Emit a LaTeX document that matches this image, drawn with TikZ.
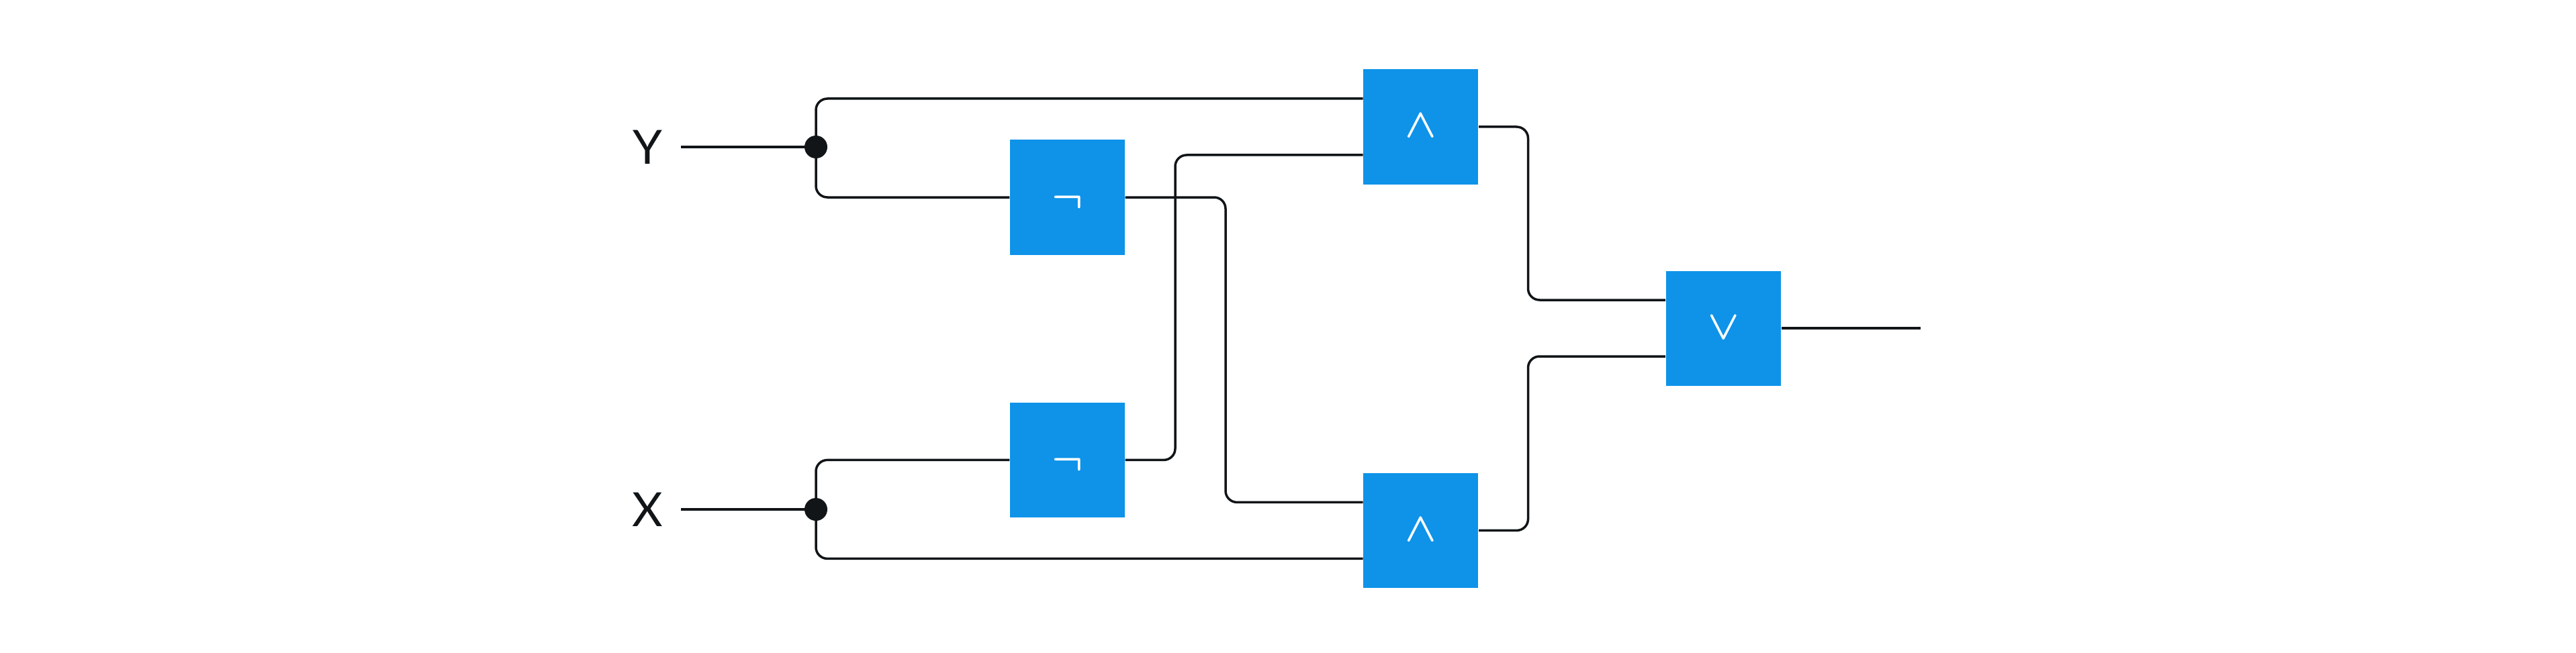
\documentclass[tikz,border=0pt]{standalone}
\usepackage{fontspec}
\usetikzlibrary{positioning,calc}
\setmainfont{Lato}
\definecolor{gateblue}{RGB}{14,147,233}
\definecolor{wireblack}{RGB}{17,21,24}

\begin{document}
\begin{tikzpicture}[
  gate/.style={rectangle, fill=gateblue, minimum width=1.71cm, minimum height=1.71cm, inner sep=0pt, text=white, text height=0.32cm, text depth=0cm, font=\boldmath\fontsize{17pt}{17pt}\selectfont},
  notgate/.style={gate, text height=0.4cm},
  inlabel/.style={text=wireblack, inner sep=0pt, font=\fontsize{20pt}{20pt}\selectfont},
  junction/.style={circle, fill=wireblack, minimum size=0.34cm, inner sep=0pt},
  wire/.style={line width=0.035cm, wireblack, rounded corners=0.17cm},
  stub/.style={line width=0.04cm, wireblack}
]
\useasboundingbox (0,0) rectangle (38.36,9.72);

% gates
\node[notgate] (notY) at (15.895,6.78) {$\neg$};
\node[notgate, below=2.19cm of notY] (notX) {$\neg$};
\node[gate, right=3.54cm of notY, yshift=1.05cm] (andY) {$\wedge$};
\node[gate, right=3.54cm of notX, yshift=-1.05cm] (andX) {$\wedge$};
\node[gate, right=2.78cm of andY, yshift=-3cm] (orZ) {$\vee$};

% inputs
\node[junction] (dotY) at (12.15,7.53) {};
\node[junction] (dotX) at (12.15,2.13) {};
\node[inlabel] (lblY) at (9.64,7.53) {Y};
\node[inlabel] (lblX) at (9.64,2.13) {X};
\coordinate[right=0.5cm of lblY.center] (startY);
\coordinate[right=0.5cm of lblX.center] (startX);
\coordinate[right=2.07cm of orZ.east] (out);

% gate pins and the vertical runs
\coordinate (andYa) at ([yshift=0.42cm]andY.west);
\coordinate (andYb) at ([yshift=-0.42cm]andY.west);
\coordinate (andXa) at ([yshift=0.42cm]andX.west);
\coordinate (andXb) at ([yshift=-0.42cm]andX.west);
\coordinate (orZa) at ([yshift=0.42cm]orZ.west);
\coordinate (orZb) at ([yshift=-0.42cm]orZ.west);
\coordinate (busX) at (17.5,0);
\coordinate (busY) at (18.25,0);
\coordinate (busZ) at (22.755,0);

\draw[stub] (startY) -- (dotY.center);
\draw[stub] (startX) -- (dotX.center);
\draw[stub] (orZ.east) -- (out);

\draw[wire] (andYa) -| (dotY.center) |- (notY.west);
\draw[wire] (andXb) -| (dotX.center) |- (notX.west);
\draw[wire] (notX.east) -- (busX |- notX.east) -- (busX |- andYb) -- (andYb);
\draw[wire] (notY.east) -- (busY |- notY.east) -- (busY |- andXa) -- (andXa);
\draw[wire] (andY.east) -- (busZ |- andY.east) -- (busZ |- orZa) -- (orZa);
\draw[wire] (andX.east) -- (busZ |- andX.east) -- (busZ |- orZb) -- (orZb);
\end{tikzpicture}
\end{document}
